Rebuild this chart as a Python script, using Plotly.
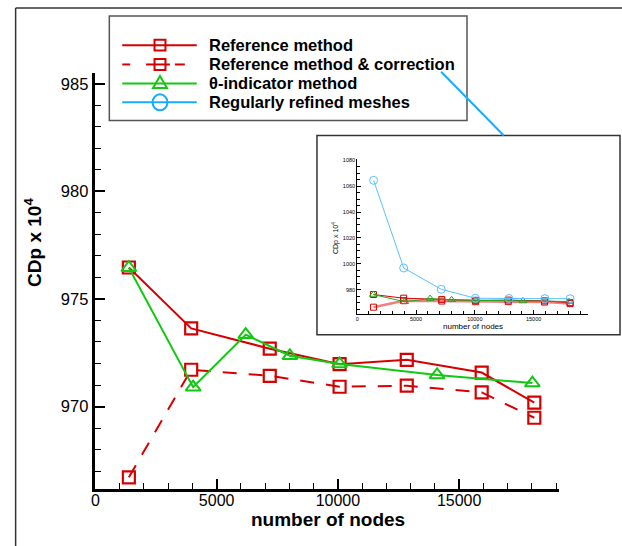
import plotly.graph_objects as go

# ---------------- data ----------------
nodes_ref = [1380, 3950, 7190, 10070, 12840, 15930, 18100]
cdp_ref = [976.46, 973.63, 972.69, 971.97, 972.17, 971.58, 970.18]
cdp_corr = [966.71, 971.71, 971.43, 970.92, 970.97, 970.66, 969.48]

nodes_theta = [1380, 4030, 6200, 8020, 10070, 14090, 18020]
cdp_theta = [976.45, 970.9, 973.34, 972.36, 971.98, 971.47, 971.09]

nodes_mesh = [1395, 3950, 7140, 10050, 12900, 15960, 18100]
cdp_mesh = [1064.4, 996.9, 980.5, 973.6, 973.4, 973.3, 973.2]

legend_labels = ["Reference method", "Reference method & correction",
                 "\u03b8-indicator method", "Regularly refined meshes"]
main_xticks = [0, 5000, 10000, 15000]
main_xticklabels = ["0", "5000", "10000", "15000"]
main_yticks = [970, 975, 980, 985]
inset_xticks = [0, 5000, 10000, 15000]
inset_xticklabels = ["0", "5000", "10000", "15000"]
inset_yticks = [980, 1000, 1020, 1040, 1060, 1080]

RED = "#d60000"
GREEN = "#12c812"
BLUE = "#18acff"

W, H = 622, 546


def px(x):
    return x / W


def py(y):
    return (H - y) / H


fig = go.Figure()

# ---------------- main plot ----------------
fig.add_trace(go.Scatter(x=nodes_ref, y=cdp_ref, mode="lines+markers",
                         line=dict(color=RED, width=2),
                         marker=dict(symbol="square-open", size=12, color=RED,
                                     line=dict(width=2.2, color=RED)),
                         xaxis="x", yaxis="y", showlegend=False))
fig.add_trace(go.Scatter(x=nodes_ref, y=cdp_corr, mode="lines+markers",
                         line=dict(color=RED, width=2, dash="14px,12px"),
                         marker=dict(symbol="square-open", size=12, color=RED,
                                     line=dict(width=2.2, color=RED)),
                         xaxis="x", yaxis="y", showlegend=False))
fig.add_trace(go.Scatter(x=nodes_theta, y=cdp_theta, mode="lines+markers",
                         line=dict(color=GREEN, width=2),
                         marker=dict(symbol="triangle-up-open", size=13, color=GREEN,
                                     line=dict(width=2, color=GREEN)),
                         xaxis="x", yaxis="y", showlegend=False))

# ---------------- inset plot ----------------
fig.add_trace(go.Scatter(x=nodes_ref, y=cdp_corr, mode="lines+markers",
                         line=dict(color="#f08080", width=2.5),
                         marker=dict(symbol="square-open", size=6, color=RED,
                                     line=dict(width=1, color=RED)),
                         xaxis="x2", yaxis="y2", showlegend=False))
fig.add_trace(go.Scatter(x=nodes_ref, y=cdp_ref, mode="lines+markers",
                         line=dict(color=RED, width=1),
                         marker=dict(symbol="square-open", size=6, color=RED,
                                     line=dict(width=1, color=RED)),
                         xaxis="x2", yaxis="y2", showlegend=False))
fig.add_trace(go.Scatter(x=nodes_theta, y=cdp_theta, mode="lines+markers",
                         line=dict(color="#22a822", width=1),
                         marker=dict(symbol="triangle-up-open", size=7, color="#22a822",
                                     line=dict(width=1, color="#22a822")),
                         xaxis="x2", yaxis="y2", showlegend=False))
fig.add_trace(go.Scatter(x=nodes_mesh, y=cdp_mesh, mode="lines+markers",
                         line=dict(color="#5ac0ff", width=1),
                         marker=dict(symbol="circle-open", size=8, color="#5ac0ff",
                                     line=dict(width=1, color="#5ac0ff")),
                         xaxis="x2", yaxis="y2", showlegend=False))

axis_common = dict(showgrid=False, zeroline=False, showline=True, linecolor="black",
                   ticks="inside", tickcolor="black")

fig.update_layout(
    width=W, height=H,
    margin=dict(l=0, r=0, t=0, b=0),
    paper_bgcolor="white", plot_bgcolor="rgba(0,0,0,0)",
    font=dict(family="Liberation Sans, Arial, sans-serif", color="black"),
    xaxis=dict(domain=[px(92), px(559)], range=[0, 19135], anchor="y",
               linewidth=2.5, ticklen=10, tickwidth=2,
               tickvals=main_xticks, ticktext=main_xticklabels,
               tickfont=dict(size=16), ticklabelstandoff=-5,
               minor=dict(dtick=1000, tick0=0, ticks="inside", ticklen=6,
                          tickwidth=1, tickcolor="black"),
               **axis_common),
    yaxis=dict(domain=[py(489), py(71)], range=[966.16, 985.51], anchor="x",
               linewidth=2.5, ticklen=10, tickwidth=2, tickvals=main_yticks,
               ticktext=[str(v) for v in main_yticks],
               tickfont=dict(size=16.5), ticklabelstandoff=1,
               minor=dict(dtick=1, tick0=970, ticks="inside", ticklen=6,
                          tickwidth=1, tickcolor="black"),
               **axis_common),
    xaxis2=dict(domain=[px(355.5), px(588)], range=[0, 19640], anchor="y2",
                linewidth=1, ticklen=4, tickwidth=1,
                tickvals=inset_xticks, ticktext=inset_xticklabels,
                tickfont=dict(size=5.5),
                minor=dict(dtick=1000, tick0=0, ticks="inside", ticklen=2.5,
                           tickwidth=1, tickcolor="black"),
                **axis_common),
    yaxis2=dict(domain=[py(312.7), py(158)], range=[961.8, 1080.5], anchor="x2",
                linewidth=1, ticklen=4, tickwidth=1, tickvals=inset_yticks,
                ticktext=[str(v) for v in inset_yticks],
                tickfont=dict(size=5.5),
                minor=dict(dtick=5, tick0=980, ticks="inside", ticklen=2.5,
                           tickwidth=1, tickcolor="black"),
                **axis_common),
)

shapes = []
# outer frame (left and top edges)
shapes.append(dict(type="line", xref="paper", yref="paper",
                   x0=px(11.7), y0=py(6), x1=px(11.7), y1=py(546),
                   line=dict(color="#333333", width=1.5)))
shapes.append(dict(type="line", xref="paper", yref="paper",
                   x0=px(11.7), y0=py(6), x1=px(622), y1=py(6),
                   line=dict(color="#333333", width=1.5)))
# inset box
shapes.append(dict(type="rect", xref="paper", yref="paper", layer="below",
                   x0=px(315), y0=py(334), x1=px(620), y1=py(134),
                   line=dict(color="#333333", width=1.5), fillcolor="white"))
# legend box
shapes.append(dict(type="rect", xref="paper", yref="paper", layer="below",
                   x0=px(106), y0=py(119), x1=px(466), y1=py(14),
                   line=dict(color="#555555", width=1.5), fillcolor="white"))
# blue pointer line from legend to inset
shapes.append(dict(type="line", xref="paper", yref="paper",
                   x0=px(440), y0=py(70), x1=px(503), y1=py(134),
                   line=dict(color=BLUE, width=2)))

rows = [43.3, 62.7, 81.7, 100.7]
lx0, lx1, mx = 119, 194, 157
# row 1: solid red + square
shapes.append(dict(type="line", xref="paper", yref="paper",
                   x0=px(lx0), y0=py(rows[0]), x1=px(lx1), y1=py(rows[0]),
                   line=dict(color=RED, width=2)))
shapes.append(dict(type="rect", xref="paper", yref="paper",
                   x0=px(mx - 5.5), y0=py(rows[0] + 5.5), x1=px(mx + 5.5), y1=py(rows[0] - 5.5),
                   line=dict(color=RED, width=2)))
# row 2: dashed red + square
for a, b in [(119, 127), (143, 167), (172, 182)]:
    shapes.append(dict(type="line", xref="paper", yref="paper",
                       x0=px(a), y0=py(rows[1]), x1=px(b), y1=py(rows[1]),
                       line=dict(color=RED, width=2)))
shapes.append(dict(type="rect", xref="paper", yref="paper",
                   x0=px(mx - 5.5), y0=py(rows[1] + 5.5), x1=px(mx + 5.5), y1=py(rows[1] - 5.5),
                   line=dict(color=RED, width=2)))
# row 3: green + triangle
shapes.append(dict(type="line", xref="paper", yref="paper",
                   x0=px(lx0), y0=py(rows[2]), x1=px(lx1), y1=py(rows[2]),
                   line=dict(color=GREEN, width=2)))
ty = rows[2]
tri = (f"M {px(mx-7)} {py(ty+4.5)} L {px(mx+7)} {py(ty+4.5)} "
       f"L {px(mx)} {py(ty-7.5)} Z")
shapes.append(dict(type="path", xref="paper", yref="paper", path=tri,
                   line=dict(color=GREEN, width=2)))
# row 4: blue + circle
shapes.append(dict(type="line", xref="paper", yref="paper",
                   x0=px(lx0), y0=py(rows[3]), x1=px(lx1), y1=py(rows[3]),
                   line=dict(color=BLUE, width=2)))
shapes.append(dict(type="circle", xref="paper", yref="paper",
                   x0=px(mx - 7.5), y0=py(rows[3] + 8), x1=px(mx + 7.5), y1=py(rows[3] - 8),
                   line=dict(color=BLUE, width=2)))
fig.update_layout(shapes=shapes)

annotations = []
for r, lab in zip(rows, legend_labels):
    annotations.append(dict(xref="paper", yref="paper", x=px(204), y=py(r),
                            xanchor="left", yanchor="middle", showarrow=False,
                            text=f"<b>{lab}</b>", font=dict(size=16.5, color="black")))
# main axis titles
annotations.append(dict(xref="paper", yref="paper", x=px(326), y=py(519),
                        xanchor="center", yanchor="middle", showarrow=False,
                        text="<b>number of nodes</b>", font=dict(size=19)))
annotations.append(dict(xref="paper", yref="paper", x=px(29), y=py(241),
                        xanchor="center", yanchor="middle", showarrow=False, textangle=-90,
                        text="<b>CDp x 10<sup>4</sup></b>", font=dict(size=19)))
# inset axis titles
annotations.append(dict(xref="paper", yref="paper", x=px(472), y=py(325.5),
                        xanchor="center", yanchor="middle", showarrow=False,
                        text="number of nodes", font=dict(size=8)))
annotations.append(dict(xref="paper", yref="paper", x=px(333), y=py(237),
                        xanchor="center", yanchor="middle", showarrow=False, textangle=-90,
                        text="CDp x 10<sup>4</sup>", font=dict(size=7)))
fig.update_layout(annotations=annotations)

fig.write_html("out.html",
               config={"displayModeBar": False},
               post_script="document.body.style.margin='0';"
                           "document.body.style.overflow='hidden';")
